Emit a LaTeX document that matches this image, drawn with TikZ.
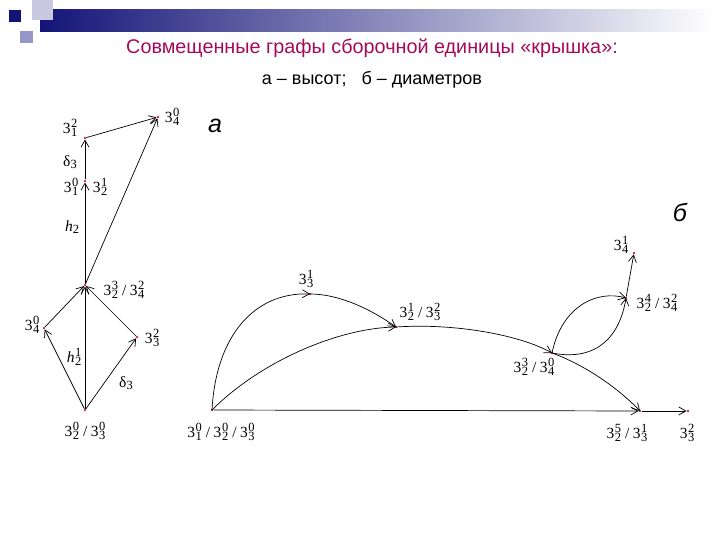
\documentclass[tikz,border=0pt]{standalone}
\usepackage{fontspec}
\setmainfont{Liberation Serif}
\newfontfamily\arialf{Liberation Sans}
\usetikzlibrary{arrows.meta}
\definecolor{titlecol}{RGB}{165,10,90}
\definecolor{navyd}{RGB}{20,20,120}
\definecolor{lav}{RGB}{200,200,225}
\definecolor{lavm}{RGB}{150,150,200}
\definecolor{dotcol}{RGB}{210,40,70}
\newcommand\Zsc[1]{{\fontsize{12.5}{12.5}\selectfont #1}}
\newcommand\Zz[3]{#1\kern0.5pt\makebox[0pt][l]{\raisebox{6pt}{\Zsc{#3}}}\raisebox{-2.6pt}{\Zsc{#2}}}
\newcommand\Zt[2]{\Zz{3}{#1}{#2}}
\newcommand\Zsl{\kern4pt/\kern3.5pt}
\tikzset{
  pt/.style={circle,fill=dotcol,inner sep=0pt,minimum size=2.6pt},
  lab/.style={inner sep=1pt,font=\fontsize{15.5}{18}\selectfont},
  edge/.style={line width=0.7pt,-{Straight Barb[length=7pt,width=8pt]}},
}
\begin{document}
\begin{tikzpicture}[x=1pt,y=-1pt]
\useasboundingbox (0,0) rectangle (720,540);
% header decoration
\shade[left color=navyd,right color=white] (40,10) rectangle (715,32);
\fill[lav] (32,0) rectangle (53,20);
\fill[navyd] (9,10) rectangle (21,22);
\fill[lavm] (20,31) rectangle (33,43);
% titles
\node[font=\arialf\fontsize{19.8}{22}\selectfont,text=titlecol] (title) at (372,48) {Совмещенные графы сборочной единицы «крышка»:};
\node[font=\arialf\fontsize{18}{20}\selectfont] (sub) at (372,80) {а – высот;\ \ \ б – диаметров};
\node[font=\arialf\itshape\fontsize{25}{27}\selectfont] (la) at (215,126) {а};
\node[font=\arialf\itshape\fontsize{25}{27}\selectfont] (lb) at (680,212) {б};
% ---------- left graph ----------
\node[pt] (a1) at (85,138) {};
\node[pt] (a2) at (158,117) {};
\node[pt] (a3) at (85,181) {};
\node[pt] (a4) at (85,285) {};
\node[pt] (a5) at (44,328) {};
\node[pt] (a6) at (137,337) {};
\node[pt] (a7) at (85,410) {};
\draw[edge] (a7) -- (a4);
\draw[edge] (a7) -- (a5);
\draw[edge] (a7) -- (a6);
\draw[edge] (a5) -- (a4);
\draw[edge] (a6) -- (a4);
\draw[edge] (a4) -- (a3);
\draw[edge] (a3) -- (a1);
\draw[edge] (a4) -- (a2);
\draw[edge] (a1) -- (a2);
\node[lab] (ta1) at (70,128) {\Zt{1}{2}};
\node[lab] (ta2) at (172,117) {\Zt{4}{0}};
\node[lab] (ta3a) at (71,187) {\Zt{1}{0}};
\node[lab] (ta3b) at (100,187) {\Zt{2}{1}};
\node[lab] (td1) at (70,162) {δ\raisebox{-2.6pt}{\Zsc{3}}};
\node[lab] (th2) at (72,227) {\textit{h}\raisebox{-2.6pt}{\Zsc{2}}};
\node[lab] (ta4) at (124,290) {\Zt{2}{3}\Zsl\Zt{4}{2}};
\node[lab] (ta5) at (32,325) {\Zt{4}{0}};
\node[lab] (ta6) at (152,338) {\Zt{3}{2}};
\node[lab] (th21) at (74,357) {\Zz{\textit{h}}{2}{1}};
\node[lab] (td2) at (126,383) {δ\raisebox{-2.6pt}{\Zsc{3}}};
\node[lab] (ta7) at (85,431) {\Zt{2}{0}\Zsl\Zt{3}{0}};
% ---------- right graph ----------
\node[pt] (b0) at (212,410) {};
\node[pt] (b1) at (310,294) {};
\node[pt] (b2) at (396,327) {};
\node[pt] (b3) at (552,353) {};
\node[pt] (b4) at (626,298) {};
\node[pt] (b5) at (634,253) {};
\node[pt] (b6) at (640,411) {};
\node[pt] (b7) at (688,411) {};
\draw[edge] (b0.center) .. controls (216,335) and (255,292) .. (b1.center);
\draw[edge] (b1.center) .. controls (340,294) and (372,310) .. (b2.center);
\draw[edge] (b0.center) .. controls (262,360) and (340,328) .. (b2.center);
\draw[edge] (b2.center) .. controls (455,323) and (520,335) .. (b3.center);
\draw[edge] (b3.center) .. controls (585,365) and (618,388) .. (b6.center);
\draw[edge] (b3.center) .. controls (562,305) and (598,290) .. (b4.center);
\draw[edge] (b3.center) .. controls (598,362) and (620,335) .. (b4.center);
\draw[edge] (b4) -- (b5);
\draw[edge] (b0) -- (b6);
\draw[edge] (b6) -- (b7);
\node[lab] (tb0) at (221,432) {\Zt{1}{0}\Zsl\Zt{2}{0}\Zsl\Zt{3}{0}};
\node[lab] (tb1) at (306,279) {\Zt{3}{1}};
\node[lab] (tb2) at (420,312) {\Zt{2}{1}\Zsl\Zt{3}{2}};
\node[lab] (tb3) at (534,367) {\Zt{2}{3}\Zsl\Zt{4}{0}};
\node[lab] (tb4) at (657,303) {\Zt{2}{4}\Zsl\Zt{4}{2}};
\node[lab] (tb5) at (621,245) {\Zt{4}{1}};
\node[lab] (tb6) at (627,433) {\Zt{2}{5}\Zsl\Zt{3}{1}};
\node[lab] (tb7) at (687,433) {\Zt{3}{2}};
\end{tikzpicture}
\end{document}
